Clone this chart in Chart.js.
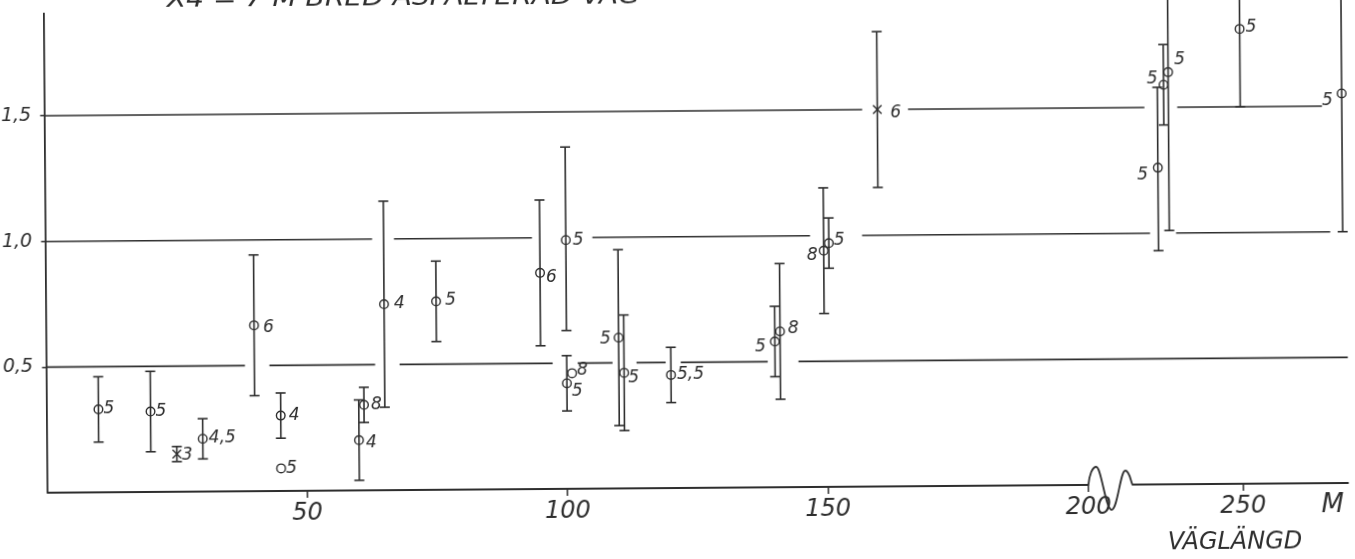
<!DOCTYPE html>
<html>
<head>
<meta charset="utf-8">
<script src="https://cdn.jsdelivr.net/npm/chart.js@4.4.1/dist/chart.umd.min.js"></script>
<style>
  html, body { margin: 0; padding: 0; background: #fff; overflow: hidden; width: 1355px; height: 559px; }
  /* the sheet sits a little askew on the page */
  #sheet { position: absolute; left: -10px; top: -12px; width: 1375px; height: 583px;
           transform: rotate(-0.43deg); transform-origin: 50% 50%; }
  canvas { display: block; }
</style>
</head>
<body>
<div id="sheet"><canvas id="c" width="1375" height="583"></canvas></div>
<script>
// Road length of each measured stretch (m)
const DIST_M = [10, 20, 25, 30, 40, 45, 45, 60, 61, 65, 75, 95, 100, 100, 101, 110, 111, 120,
                140, 141, 149.5, 150.5, 160, 234.1, 235.3, 236.2, 250, 269.5];
// Mean value per stretch
const MEAN = [0.33, 0.32, 0.15, 0.21, 0.66, 0.30, 0.09, 0.20, 0.34, 0.74, 0.75, 0.86, 0.99, 0.42, 0.46, 0.60, 0.46, 0.45,
              0.58, 0.62, 0.94, 0.97, 1.50, 1.26, 1.59, 1.64, 1.81, 1.55];
// Lower / upper end of the spread (null = single value, no bar)
const LOW  = [0.20, 0.16, 0.12, 0.13, 0.38, 0.21, null, 0.04, 0.27, 0.33, 0.59, 0.57, 0.63, 0.31, null, 0.25, 0.23, 0.34,
              0.44, 0.35, 0.69, 0.87, 1.19, 0.93, 1.43, 1.01, 1.50, 1.00];
const HIGH = [0.46, 0.48, 0.18, 0.29, 0.94, 0.39, null, 0.36, 0.41, 1.15, 0.91, 1.15, 1.36, 0.53, null, 0.95, 0.69, 0.56,
              0.72, 0.89, 1.19, 1.07, 1.81, 1.58, 1.75, 2.2, 2.2, 2.2];
// Number of measurements written beside each mark
const COUNT = ['5', '5', '3', '4,5', '6', '4', '5', '4', '8', '4', '5', '6', '5', '5', '8', '5', '5', '5,5',
               '5', '8', '8', '5', '6', '5', '5', '5', '5', '5'];
// Mark type: o = open circle, x = cross
const MARKER = ['o', 'o', 'x', 'o', 'o', 'o', 'o', 'o', 'o', 'o', 'o', 'o', 'o', 'o', 'o', 'o', 'o', 'o',
                'o', 'o', 'o', 'o', 'x', 'o', 'o', 'o', 'o', 'o'];

// Axis ticks
const XTICK_M = [50, 100, 150, 200, 250];
const YTICKS = [0.5, 1.0, 1.5];
const YTICK_LABELS = ['0,5', '1,0', '1,5'];

// Level rules, drawn broken where they would run into bars and numbers (m from..to)
const RULE_05 = [[0, 38.2], [42.9, 63.2], [67.9, 97.3], [102.1, 108.8], [113.4, 119.0], [121.9, 138.6], [144.5, 270.3]];
const RULE_10 = [[0, 62.8], [67.0, 93.5], [105.1, 146.9], [156.9, 232.5], [237.5, 267.1]];
const RULE_15 = [[0, 157.1], [165.9, 231.6], [237.9, 265.7]];

// Broken length axis: beyond the break the scale is pulled in
const BREAK_FROM = 205, BREAK_SHIFT = 20.3;
const toAxis = m => (m > BREAK_FROM ? m - BREAK_SHIFT : m);

// Where each count is written: [dx, dy] in px from the mark (negative dx = left side)
const LABEL_NUDGE = [[5, 0], [5, 0], [5, 1], [6, -1], [9, 2], [8, 0], [5, 0], [7, 3], [7, 0], [10, 0], [9, -1], [6, 5],
                     [7, 0], [5, 8], [5, -3], [-8, 1], [4, 5], [6, 0], [-9, 5], [8, -3], [-6, 5], [5, -3], [13, 4],
                     [-10, 7], [-6, -6], [6, -12], [6, -2], [-9, 7]];

const INK = '#2e2e2e';
const HAND = '"DejaVu Sans", "Liberation Sans", sans-serif';

function ruleData(level, segs) {
  const out = [];
  segs.forEach(([a, b]) => {
    out.push({ x: toAxis(a), y: level }, { x: toAxis(b), y: level }, { x: toAxis(b), y: null });
  });
  return out;
}

const barData = [];
const capData = [];
DIST_M.forEach((m, i) => {
  if (LOW[i] === null) return;
  const x = toAxis(m);
  barData.push({ x, y: LOW[i] }, { x, y: HIGH[i] }, { x, y: null });
  capData.push({ x, y: LOW[i] }, { x, y: HIGH[i] });
});
const meanData = DIST_M.map((m, i) => ({ x: toAxis(m), y: MEAN[i] }));

const ruleStyle = { type: 'line', borderColor: INK, borderWidth: 1.6, pointRadius: 0, spanGaps: false, clip: false };

// Broken x axis line with the squiggle, counts and captions
const handDrawn = {
  id: 'handDrawn',
  afterDatasetsDraw(chart) {
    const { ctx, chartArea, scales: { x, y } } = chart;
    const y0 = y.getPixelForValue(0);
    const xb = x.getPixelForValue(200);
    ctx.save();
    ctx.strokeStyle = INK;
    ctx.lineWidth = 1.8;
    ctx.lineJoin = 'round';
    ctx.beginPath();
    ctx.moveTo(chartArea.left, y0);
    ctx.lineTo(xb, y0);
    ctx.bezierCurveTo(xb + 1, y0 - 10, xb + 4, y0 - 18, xb + 8, y0 - 18);
    ctx.bezierCurveTo(xb + 13, y0 - 18, xb + 17, y0 + 25, xb + 23, y0 + 25);
    ctx.bezierCurveTo(xb + 29, y0 + 25, xb + 32, y0 - 14, xb + 37, y0 - 14);
    ctx.bezierCurveTo(xb + 41, y0 - 14, xb + 42, y0 - 5, xb + 44, y0);
    ctx.lineTo(chartArea.right, y0);
    ctx.stroke();

    // counts beside the marks
    ctx.fillStyle = '#2e2e2e';
    ctx.font = 'italic 17px ' + HAND;
    ctx.textBaseline = 'middle';
    DIST_M.forEach((m, i) => {
      const px = x.getPixelForValue(toAxis(m));
      const py = y.getPixelForValue(MEAN[i]);
      const [dx, dy] = LABEL_NUDGE[i];
      ctx.textAlign = dx < 0 ? 'right' : 'left';
      ctx.fillText(COUNT[i], px + dx, py + dy);
    });

    // captions
    ctx.textAlign = 'center';
    ctx.font = 'italic 26px ' + HAND;
    ctx.fillText('M', 1341, 522);
    ctx.font = 'italic 24px ' + HAND;
    ctx.fillText('VÄGLÄNGD', 1243, 559);

    // heading line at the top edge
    const head = 'X4 = 7 M BRED ASFALTERAD VÄG';
    ctx.font = 'italic 25px ' + HAND;
    ctx.textAlign = 'left';
    ctx.textBaseline = 'alphabetic';
    const w = ctx.measureText(head).width;
    ctx.translate(179, 15);
    ctx.scale(473 / w, 1);
    ctx.fillText(head, 0, 0);
    ctx.restore();
  }
};

new Chart(document.getElementById('c'), {
  type: 'scatter',
  data: {
    datasets: [
      Object.assign({ data: ruleData(0.5, RULE_05) }, ruleStyle),
      Object.assign({ data: ruleData(1.0, RULE_10) }, ruleStyle),
      Object.assign({ data: ruleData(1.5, RULE_15) }, ruleStyle),
      { type: 'line', data: barData, borderColor: INK, borderWidth: 1.6, pointRadius: 0, spanGaps: false, clip: false },
      { data: capData, pointStyle: 'line', pointRadius: 5, borderColor: INK, pointBorderWidth: 1.6, clip: false },
      { data: meanData,
        pointStyle: MARKER.map(k => (k === 'x' ? 'crossRot' : 'circle')),
        pointRadius: MARKER.map(k => (k === 'x' ? 6 : 4.3)),
        pointBackgroundColor: 'rgba(0,0,0,0)', borderColor: INK, pointBorderWidth: 1.4, clip: false }
    ]
  },
  options: {
    responsive: false,
    animation: false,
    devicePixelRatio: 1,
    layout: { padding: { left: 0, right: 17.8, top: 0, bottom: 0 } },
    plugins: { legend: { display: false }, tooltip: { enabled: false } },
    scales: {
      x: {
        type: 'linear', min: 0, max: 250,
        afterBuildTicks: s => { s.ticks = XTICK_M.map(v => ({ value: toAxis(v) })); },
        afterFit: s => { s.height = 83; },
        border: { display: false },
        grid: { drawOnChartArea: false, drawTicks: true, tickLength: 7, color: INK, lineWidth: 1.5 },
        ticks: { color: '#2e2e2e', padding: 1, maxRotation: 0, autoSkip: false,
                 font: { family: HAND, size: 24, style: 'italic' },
                 callback: (v, i) => String(XTICK_M[i]) }
      },
      y: {
        type: 'linear', min: 0, max: 500 / 262,
        afterBuildTicks: s => { s.ticks = YTICKS.map(v => ({ value: v })); },
        afterFit: s => { s.width = 55.4; },
        border: { display: true, color: INK, width: 1.8 },
        grid: { drawOnChartArea: false, drawTicks: true, tickLength: 4, color: INK, lineWidth: 1.5 },
        ticks: { color: '#2e2e2e', padding: 9, autoSkip: false,
                 font: { family: HAND, size: 19, style: 'italic' },
                 callback: (v, i) => YTICK_LABELS[i] }
      }
    }
  },
  plugins: [handDrawn]
});
</script>
</body>
</html>
